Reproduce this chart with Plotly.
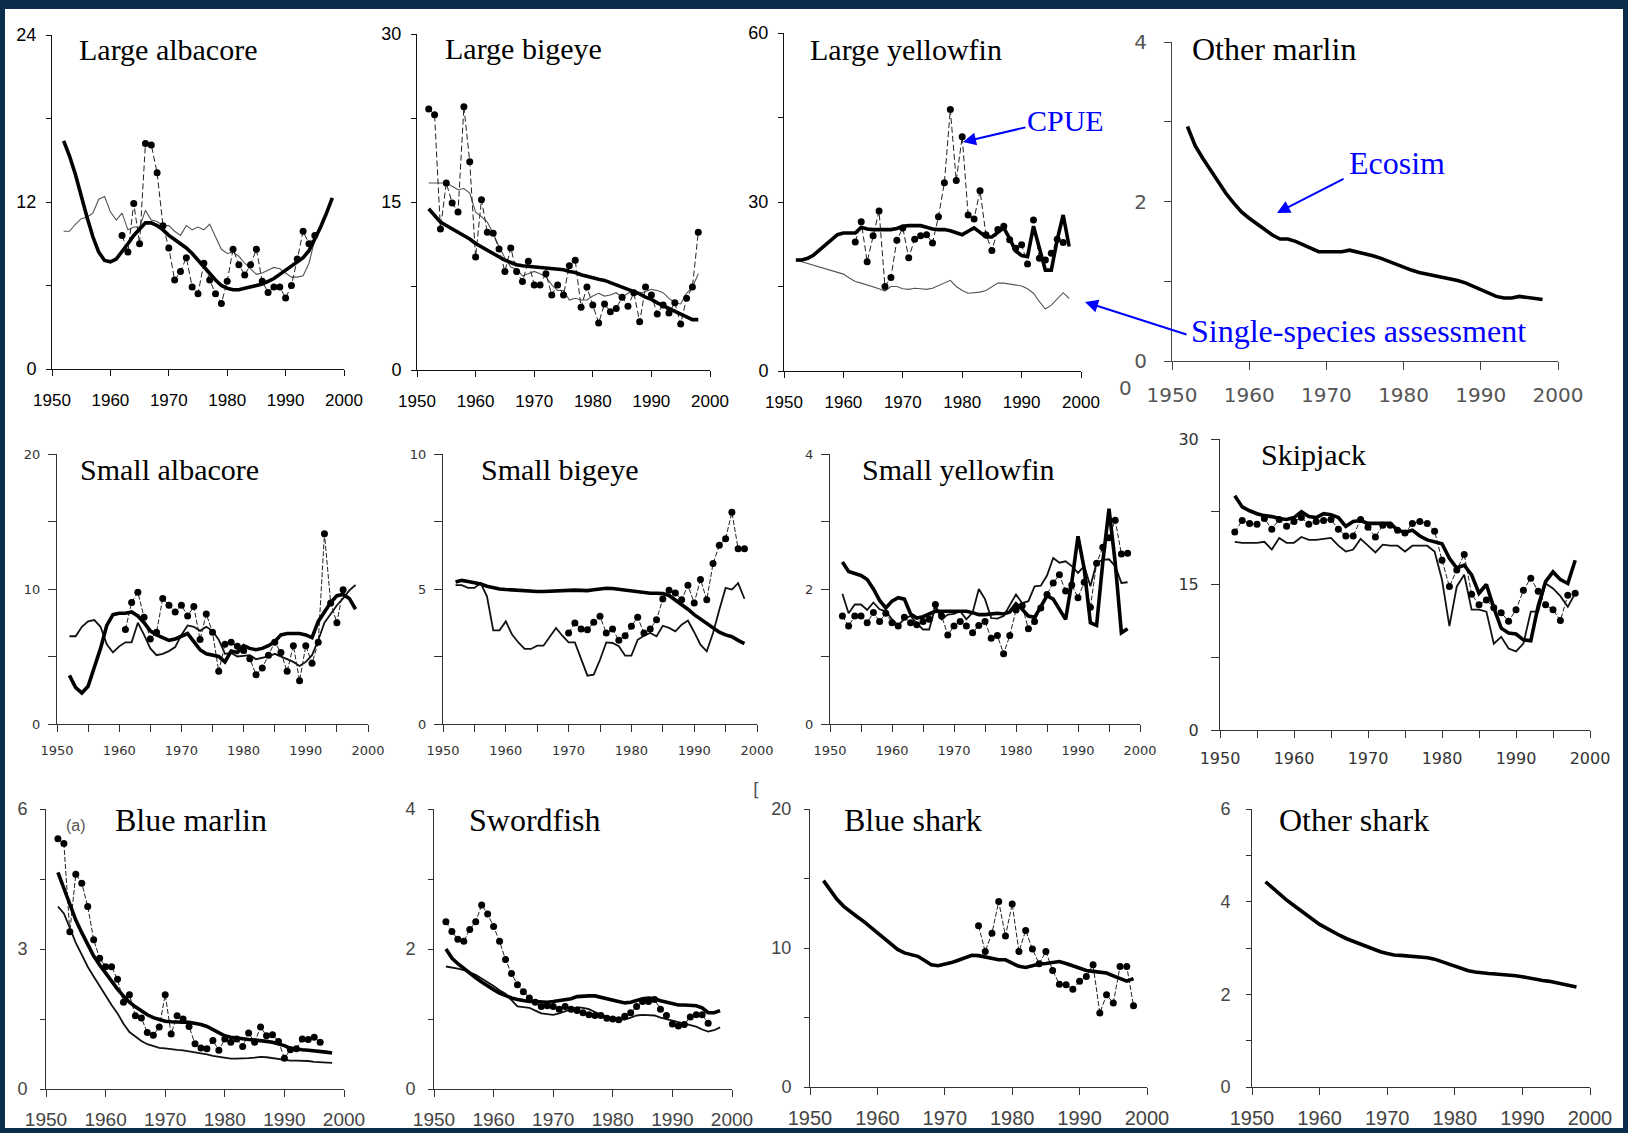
import plotly.graph_objects as go

W, H = 1628, 1133

# ---------------- data ----------------
# Large albacore
la_eco_start = 1952
la_eco = [16.4, 15.3, 14.0, 12.4, 10.9, 9.5, 8.4, 7.8, 7.7, 7.9, 8.4, 9.0, 9.6, 10.1, 10.5, 10.5, 10.3, 10.0, 9.6, 9.3,
          9.0, 8.7, 8.3, 7.8, 7.3, 6.8, 6.4, 6.0, 5.8, 5.7, 5.7, 5.8, 5.9, 6.0, 6.1, 6.3, 6.5, 6.8, 7.1, 7.4,
          7.7, 8.0, 8.5, 9.3, 10.2, 11.2, 12.3]
la_cpue_start = 1962
la_cpue = [9.6, 8.4, 11.9, 9.0, 16.2, 16.1, 14.1, 10.3, 8.7, 6.4, 7.0, 8.0, 5.9, 5.4, 7.6, 6.4, 5.4, 4.7, 6.3, 8.6,
           7.5, 6.75, 7.5, 8.6, 6.3, 5.5, 5.9, 5.9, 5.1, 6.0, 7.9, 9.9, 9.0, 9.6]
la_ssa_start = 1952
la_ssa = [9.9, 9.9, 10.4, 10.8, 10.9, 11.2, 12.2, 12.4, 11.3, 10.7, 11.2, 10.0, 10.2, 10.2, 11.4, 10.7, 10.6, 10.3,
          10.3, 9.9, 9.6, 10.3, 10.0, 10.2, 10.0, 10.4, 9.5, 8.6, 8.3, 8.4, 8.1, 7.6, 7.2, 6.8, 6.9, 7.1, 7.3, 7.2,
          6.9, 6.6, 6.6, 6.7, 7.6, 9.3]

# Large bigeye
lb_eco_start = 1952
lb_eco = [14.4, 13.8, 13.2, 12.9, 12.6, 12.3, 12.0, 11.7, 11.3, 11.0, 10.7, 10.4, 10.1, 9.8, 9.6, 9.4, 9.3, 9.25,
          9.2, 9.1, 9.1, 9.05, 9.0, 8.95, 8.8, 8.7, 8.5, 8.35, 8.2, 8.1, 8.0, 7.8, 7.65, 7.4, 7.2, 7.0, 6.8, 6.5,
          6.3, 6.0, 5.75, 5.5, 5.2, 4.95, 4.7, 4.5, 4.5]
lb_cpue_start = 1952
lb_cpue = [23.3, 22.8, 12.6, 16.7, 14.9, 14.1, 23.5, 18.6, 10.1, 15.2, 12.3, 12.2, 10.8, 8.8, 10.9, 8.8, 7.9, 9.7,
           7.6, 7.6, 8.6, 6.7, 7.6, 6.7, 9.3, 9.8, 5.6, 7.4, 5.8, 4.2, 5.9, 5.2, 5.5, 6.5, 5.7, 6.9, 4.3, 7.4, 6.7,
           5.0, 5.8, 5.1, 6.0, 4.1, 6.4, 7.4, 12.3]
lb_ssa_start = 1952
lb_ssa = [16.7, 16.7, 16.7, 16.7, 16.4, 16.1, 16.2, 15.8, 14.1, 13.7, 13.2, 12.2, 11.0, 10.0, 9.2, 9.0, 8.4, 8.6,
          8.8, 8.6, 8.3, 7.6, 7.1, 7.1, 6.25, 6.4, 6.25, 6.25, 6.6, 6.85, 6.6, 6.7, 6.9, 6.5, 6.85, 7.1, 6.85,
          7.0, 7.2, 7.1, 6.9, 6.4, 6.0, 5.9, 6.85, 7.4, 8.6]

# Large yellowfin
ly_eco_start = 1952
ly_eco = [19.7, 19.7, 20.0, 20.6, 21.5, 22.4, 23.4, 24.2, 24.5, 24.5, 24.5, 25.5, 25.2, 25.1, 25.1, 25.1, 25.1,
          25.3, 25.7, 25.8, 25.8, 25.8, 25.5, 25.2, 25.1, 25.1, 24.9, 24.5, 24.2, 24.8, 25.4, 24.6, 23.8, 23.8,
          24.6, 25.4, 23.5, 21.3, 20.5, 20.3, 25.7, 21.8, 17.9, 17.9, 23.3, 27.7, 22.1]
ly_cpue_start = 1962
ly_cpue = [22.9, 26.5, 19.4, 24.0, 28.4, 15.0, 16.6, 23.2, 25.4, 20.1, 23.4, 24.0, 24.2, 22.7, 27.4, 33.4, 46.4,
           33.8, 41.6, 27.7, 27.0, 32.0, 24.2, 21.4, 25.1, 25.7, 23.3, 21.8, 22.4, 19.0, 26.8, 20.0, 19.7, 20.9,
           23.4, 22.8]
ly_ssa_start = 1952
ly_ssa = [19.7, 19.4, 19.1, 18.7, 18.4, 18.1, 17.8, 17.5, 17.2, 16.5, 15.9, 15.6, 15.3, 15.0, 14.6, 14.2, 15.0,
          15.0, 14.6, 14.5, 14.7, 14.6, 14.5, 14.7, 15.2, 15.7, 16.1, 15.0, 14.3, 13.8, 13.9, 14.0, 14.3, 14.9,
          15.6, 15.6, 15.4, 15.3, 15.1, 14.6, 13.8, 12.3, 11.0, 11.7, 12.8, 13.9, 12.9]

# Other marlin
om_eco_start = 1952
om_eco = [2.94, 2.70, 2.54, 2.39, 2.24, 2.10, 1.98, 1.87, 1.79, 1.72, 1.65, 1.58, 1.53, 1.53, 1.50, 1.46, 1.41,
          1.37, 1.37, 1.37, 1.37, 1.39, 1.37, 1.35, 1.32, 1.29, 1.25, 1.21, 1.17, 1.14, 1.11, 1.09, 1.07, 1.06,
          1.04, 1.01, 0.98, 0.94, 0.90, 0.85, 0.81, 0.79, 0.79, 0.81, 0.80, 0.79, 0.77]

# Small albacore
sa_eco_start = 1952
sa_eco = [3.6, 2.7, 2.3, 2.8, 4.2, 5.6, 7.3, 8.1, 8.2, 8.2, 8.3, 8.0, 7.5, 6.9, 6.6, 6.4, 6.2, 6.3, 6.5, 6.7, 6.1,
          5.5, 5.2, 5.1, 5.0, 4.6, 5.4, 5.3, 5.8, 5.6, 5.5, 5.6, 5.8, 6.1, 6.6, 6.7, 6.7, 6.7, 6.6, 6.4, 7.6, 8.3,
          9.0, 9.5, 9.6, 9.3, 8.5]
sa_cpue_start = 1961
sa_cpue = [7.0, 9.0, 9.75, 7.9, 6.3, 6.8, 9.3, 8.8, 8.3, 8.8, 8.0, 8.7, 6.25, 8.15, 6.8, 3.9, 5.9, 6.05, 5.75, 5.45,
           4.84, 3.65, 4.15, 5.1, 6.05, 5.3, 3.9, 5.8, 3.2, 5.8, 4.5, 6.05, 14.1, 8.96, 7.5, 9.95]
sa_ssa_start = 1952
sa_ssa = [6.5, 6.5, 7.2, 7.6, 7.7, 7.2, 5.9, 5.3, 5.75, 6.05, 6.05, 7.5, 6.6, 5.6, 5.1, 5.2, 5.4, 5.7, 6.6, 7.3,
          7.2, 6.9, 7.2, 6.9, 6.25, 5.2, 5.26, 5.0, 5.05, 5.1, 4.8, 4.9, 5.0, 5.2, 5.0, 4.8, 4.6, 4.3, 4.6, 5.1,
          6.2, 7.5, 8.2, 8.8, 9.3, 9.9, 10.3]

# Small bigeye
sb_eco_start = 1952
sb_eco = [5.26, 5.32, 5.28, 5.24, 5.19, 5.1, 5.04, 5.0, 4.98, 4.96, 4.94, 4.92, 4.91, 4.91, 4.91, 4.92, 4.94, 4.96,
          4.98, 4.96, 4.95, 4.94, 4.97, 5.0, 5.03, 5.02, 4.99, 4.96, 4.93, 4.88, 4.85, 4.84, 4.84, 4.83, 4.76, 4.6,
          4.45, 4.25, 4.05, 3.88, 3.7, 3.53, 3.4, 3.3, 3.23, 3.1, 2.98]
sb_cpue_start = 1970
sb_cpue = [3.37, 3.74, 3.52, 3.49, 3.77, 3.99, 3.37, 3.52, 3.1, 3.27, 3.62, 3.95, 3.37, 3.52, 3.86, 4.63, 4.95,
           4.85, 4.6, 5.14, 4.48, 5.35, 4.6, 5.94, 6.62, 6.86, 7.84, 6.49, 6.49]
sb_ssa_start = 1952
sb_ssa = [5.14, 5.14, 5.04, 5.04, 5.22, 4.73, 3.47, 3.47, 3.8, 3.31, 3.02, 2.78, 2.78, 2.9, 2.9, 3.25, 3.56, 3.27,
          3.02, 3.02, 2.38, 1.79, 1.83, 2.38, 3.02, 3.0, 2.88, 2.53, 2.53, 3.12, 3.27, 3.37, 3.25, 3.64, 3.56,
          3.43, 3.68, 3.83, 3.4, 2.94, 2.69, 3.37, 4.23, 5.04, 4.98, 5.22, 4.64]

# Small yellowfin
sy_eco_start = 1952
sy_eco = [2.40, 2.26, 2.23, 2.20, 2.14, 2.00, 1.83, 1.72, 1.82, 1.87, 1.85, 1.63, 1.57, 1.59, 1.63, 1.67, 1.67,
          1.67, 1.67, 1.67, 1.67, 1.65, 1.62, 1.62, 1.63, 1.64, 1.63, 1.66, 1.78, 1.70, 1.60, 1.58, 1.74, 1.90,
          1.85, 1.70, 1.55, 2.10, 2.78, 2.30, 1.50, 1.46, 2.40, 3.19, 2.39, 1.35, 1.41]
sy_cpue_start = 1952
sy_cpue = [1.6, 1.45, 1.6, 1.6, 1.5, 1.65, 1.52, 1.64, 1.5, 1.45, 1.58, 1.5, 1.47, 1.52, 1.55, 1.77, 1.6, 1.32,
           1.45, 1.52, 1.45, 1.35, 1.46, 1.52, 1.27, 1.31, 1.04, 1.31, 1.69, 1.75, 1.41, 1.52, 1.72, 1.92, 2.09,
           2.21, 1.97, 2.06, 1.87, 2.1, 1.73, 2.38, 2.62, 2.76, 3.02, 2.52, 2.53]
sy_ssa_start = 1952
sy_ssa = [1.93, 1.64, 1.77, 1.77, 1.69, 1.8, 1.7, 1.67, 1.55, 1.46, 1.56, 1.6, 1.49, 1.4, 1.4, 1.74, 1.55, 1.62,
          1.63, 1.67, 1.55, 1.65, 2.0, 1.85, 1.57, 1.56, 1.6, 1.75, 1.92, 1.79, 1.82, 2.04, 2.05, 2.2, 2.46, 2.39,
          2.41, 2.34, 2.24, 2.34, 2.04, 2.39, 2.43, 2.44, 2.34, 2.09, 2.1]

# Skipjack
sk_eco_start = 1952
sk_eco = [24.15, 23.0, 22.6, 22.3, 22.1, 22.0, 21.8, 21.7, 21.9, 22.5, 22.0, 21.9, 22.3, 22.2, 21.9, 21.0, 21.5,
          21.6, 21.3, 21.3, 21.3, 21.3, 20.6, 20.4, 20.6, 20.0, 19.6, 19.4, 19.2, 17.7, 16.7, 17.0, 16.0, 14.1,
          15.0, 12.6, 10.5, 10.0, 9.9, 9.3, 9.2, 12.8, 15.3, 16.3, 15.5, 15.1, 17.5]
sk_cpue_start = 1952
sk_cpue = [20.4, 21.6, 21.3, 21.2, 21.8, 20.7, 21.7, 21.0, 21.5, 21.9, 21.2, 21.5, 21.6, 21.7, 20.7, 20.0, 20.0,
           21.7, 20.9, 19.9, 21.1, 21.1, 20.6, 20.3, 21.3, 21.5, 21.3, 20.5, 17.5, 14.8, 16.5, 18.1, 14.0, 12.9,
           13.4, 12.6, 12.1, 11.2, 12.4, 14.4, 15.65, 14.3, 12.9, 12.4, 11.3, 13.9, 14.1]
sk_ssa_start = 1952
sk_ssa = [19.4, 19.3, 19.3, 19.3, 19.4, 18.6, 19.8, 19.3, 19.3, 19.9, 19.6, 19.6, 19.7, 19.8, 19.0, 18.4, 18.6,
          19.7, 19.0, 18.3, 19.1, 19.0, 19.0, 18.4, 19.0, 19.0, 19.0, 18.4, 15.5, 10.7, 14.8, 16.0, 12.4, 12.4,
          12.2, 8.9, 9.6, 8.4, 8.1, 8.9, 12.2, 12.2, 15.1, 14.6, 13.8, 12.7, 14.1]

# Blue marlin
bm_eco_start = 1952
bm_eco = [4.64, 4.30, 3.95, 3.62, 3.35, 3.08, 2.85, 2.66, 2.48, 2.31, 2.14, 1.99, 1.86, 1.76, 1.67, 1.59, 1.53,
          1.48, 1.45, 1.44, 1.43, 1.43, 1.43, 1.41, 1.38, 1.34, 1.28, 1.21, 1.14, 1.11, 1.09, 1.08, 1.06, 1.05,
          1.04, 1.02, 1.0, 0.97, 0.93, 0.87, 0.85, 0.84, 0.83, 0.82, 0.81, 0.79, 0.77]
bm_cpue_start = 1952
bm_cpue = [5.36, 5.26, 3.37, 4.6, 4.41, 3.91, 3.2, 2.8, 2.62, 2.62, 2.35, 1.86, 2.02, 1.57, 1.52, 1.21, 1.15, 1.33,
           2.02, 1.18, 1.57, 1.5, 1.34, 0.97, 0.88, 0.86, 1.04, 0.83, 1.07, 1.0, 1.07, 0.91, 1.2, 1.0, 1.33, 1.14,
           1.16, 1.02, 0.66, 0.84, 0.86, 1.07, 1.06, 1.11, 1.0]
bm_ssa_start = 1952
bm_ssa = [3.91, 3.76, 3.45, 3.13, 2.88, 2.62, 2.41, 2.2, 1.98, 1.8, 1.62, 1.4, 1.22, 1.12, 1.03, 0.96, 0.92, 0.88,
          0.87, 0.85, 0.84, 0.83, 0.81, 0.79, 0.76, 0.74, 0.71, 0.69, 0.66, 0.65, 0.65, 0.65, 0.66, 0.67, 0.69,
          0.68, 0.66, 0.64, 0.62, 0.61, 0.61, 0.61, 0.6, 0.58, 0.57, 0.56, 0.56]

# Swordfish
sw_eco_start = 1952
sw_eco = [2.0, 1.87, 1.79, 1.72, 1.65, 1.59, 1.53, 1.47, 1.42, 1.37, 1.33, 1.30, 1.28, 1.26, 1.25, 1.25, 1.24,
          1.24, 1.25, 1.26, 1.27, 1.29, 1.32, 1.33, 1.33, 1.33, 1.31, 1.28, 1.26, 1.24, 1.23, 1.24, 1.27, 1.29,
          1.30, 1.29, 1.26, 1.24, 1.22, 1.20, 1.20, 1.20, 1.19, 1.16, 1.09, 1.09, 1.12]
sw_cpue_start = 1952
sw_cpue = [2.39, 2.25, 2.14, 2.11, 2.28, 2.39, 2.63, 2.5, 2.32, 2.11, 1.85, 1.65, 1.49, 1.39, 1.30, 1.24, 1.18,
           1.19, 1.18, 1.14, 1.18, 1.14, 1.12, 1.09, 1.06, 1.05, 1.05, 1.01, 1.0, 0.99, 1.04, 1.09, 1.18, 1.25,
           1.25, 1.28, 1.14, 1.05, 0.93, 0.90, 0.92, 1.03, 1.06, 1.06, 0.94]
sw_ssa_start = 1952
sw_ssa = [1.75, 1.74, 1.72, 1.70, 1.67, 1.63, 1.58, 1.53, 1.47, 1.41, 1.36, 1.27, 1.18, 1.17, 1.16, 1.12, 1.08,
          1.07, 1.06, 1.08, 1.11, 1.15, 1.17, 1.16, 1.14, 1.10, 1.06, 1.03, 1.00, 0.99, 0.99, 1.02, 1.05, 1.06,
          1.06, 1.05, 1.02, 1.00, 0.97, 0.95, 0.94, 0.92, 0.89, 0.85, 0.82, 0.84, 0.88]

# Blue shark
bs_eco_start = 1952
bs_eco = [14.85, 14.15, 13.5, 13.0, 12.6, 12.25, 11.9, 11.5, 11.1, 10.72, 10.35, 9.9, 9.65, 9.55, 9.4, 9.1, 8.8,
          8.72, 8.82, 8.95, 9.12, 9.3, 9.48, 9.45, 9.35, 9.25, 9.15, 9.15, 8.9, 8.68, 8.6, 8.7, 8.85, 8.88, 8.95,
          9.03, 8.88, 8.72, 8.55, 8.38, 8.32, 8.27, 8.2, 8.0, 7.83, 7.62, 7.8]
bs_cpue_start = 1975
bs_cpue = [11.6, 9.75, 11.07, 13.34, 10.87, 13.17, 9.75, 11.26, 9.92, 8.86, 9.75, 8.38, 7.4, 7.35, 7.04, 7.6, 7.95,
           8.79, 5.32, 6.63, 6.04, 8.67, 8.67, 5.84]

# Other shark
os_eco_start = 1952
os_eco = [4.43, 4.30, 4.17, 4.05, 3.94, 3.83, 3.71, 3.6, 3.51, 3.43, 3.34, 3.27, 3.20, 3.14, 3.09, 3.04, 2.97,
          2.92, 2.88, 2.85, 2.84, 2.83, 2.82, 2.81, 2.79, 2.76, 2.71, 2.65, 2.59, 2.55, 2.51, 2.48, 2.46, 2.45,
          2.44, 2.43, 2.42, 2.40, 2.38, 2.35, 2.32, 2.30, 2.28, 2.25, 2.22, 2.19, 2.16]

x_tick_labels = ["1950", "1960", "1970", "1980", "1990", "2000"]

# ---------------- styles ----------------
STY = {
    "r1": dict(axis="#111111", xfont=dict(family="Liberation Sans", size=17, color="#000000"),
               yfont=dict(family="Liberation Sans", size=18, color="#000000"),
               xticklen=6, yticklen=5, xstand=10, ystand=6, xminor=None, ssa_color="#555555", ssa_w=1.1,
               cpue_dash="6px,3px"),
    "r1b": dict(axis="#444444", xfont=dict(family="DejaVu Sans", size=20, color="#555555"),
                yfont=dict(family="DejaVu Sans", size=20, color="#555555"),
                xticklen=8, yticklen=7, xstand=8, ystand=13, xminor=None, ssa_color="#555555", ssa_w=1.1,
                cpue_dash="6px,3px"),
    "r2": dict(axis="#333333", xfont=dict(family="DejaVu Sans", size=13, color="#333333"),
               yfont=dict(family="DejaVu Sans", size=13, color="#333333"),
               xticklen=7, yticklen=8, xstand=7, ystand=5, xminor=5, ssa_color="#111111", ssa_w=1.8,
               cpue_dash="5px,2px"),
    "r3": dict(axis="#333333", xfont=dict(family="Liberation Sans", size=19, color="#444444"),
               yfont=dict(family="Liberation Sans", size=18, color="#444444"),
               xticklen=7, yticklen=5, xstand=6, ystand=9, xminor=None, ssa_color="#111111", ssa_w=1.8,
               cpue_dash="5px,2px"),
}

panels = [
    dict(title="Large albacore", box=(52, 344, 35, 369), ymax=24, ymaj=12, ymin=6, style="r1", tpos=(77, 49), tsize=30,
         series=[("ssa", la_ssa_start, la_ssa), ("cpue", la_cpue_start, la_cpue), ("eco", la_eco_start, la_eco)]),
    dict(title="Large bigeye", box=(417, 710, 34, 370), ymax=30, ymaj=15, ymin=7.5, style="r1", tpos=(443, 48), tsize=30,
         series=[("ssa", lb_ssa_start, lb_ssa), ("cpue", lb_cpue_start, lb_cpue), ("eco", lb_eco_start, lb_eco)]),
    dict(title="Large yellowfin", box=(784, 1081, 33, 371), ymax=60, ymaj=30, ymin=15, style="r1", tpos=(808, 49), tsize=30,
         series=[("ssa", ly_ssa_start, ly_ssa), ("cpue", ly_cpue_start, ly_cpue), ("eco", ly_eco_start, ly_eco)]),
    dict(title="Other marlin", box=(1172, 1558, 42, 361), ymax=4, ymaj=2, ymin=1, style="r1b", tpos=(1190, 49), tsize=32,
         series=[("eco", om_eco_start, om_eco)]),
    dict(title="Small albacore", box=(57, 368, 454, 724), ymax=20, ymaj=10, ymin=5, style="r2", tpos=(78, 469), tsize=30,
         series=[("ssa", sa_ssa_start, sa_ssa), ("cpue", sa_cpue_start, sa_cpue), ("eco", sa_eco_start, sa_eco)]),
    dict(title="Small bigeye", box=(443, 757, 454, 724), ymax=10, ymaj=5, ymin=2.5, style="r2", tpos=(479, 469), tsize=30,
         series=[("ssa", sb_ssa_start, sb_ssa), ("cpue", sb_cpue_start, sb_cpue), ("eco", sb_eco_start, sb_eco)]),
    dict(title="Small yellowfin", box=(830, 1140, 454, 724), ymax=4, ymaj=2, ymin=1, style="r2", tpos=(860, 469), tsize=30,
         series=[("ssa", sy_ssa_start, sy_ssa), ("cpue", sy_cpue_start, sy_cpue), ("eco", sy_eco_start, sy_eco)]),
    dict(title="Skipjack", box=(1220, 1590, 439, 730), ymax=30, ymaj=15, ymin=7.5, style="r2", tpos=(1259, 454), tsize=30,
         font16=True, ystand=9,
         series=[("ssa", sk_ssa_start, sk_ssa), ("cpue", sk_cpue_start, sk_cpue), ("eco", sk_eco_start, sk_eco)]),
    dict(title="Blue marlin", box=(46, 344, 809, 1089), ymax=6, ymaj=3, ymin=1.5, style="r3", tpos=(113, 820), tsize=32,
         series=[("ssa", bm_ssa_start, bm_ssa), ("cpue", bm_cpue_start, bm_cpue), ("eco", bm_eco_start, bm_eco)]),
    dict(title="Swordfish", box=(434, 732, 809, 1089), ymax=4, ymaj=2, ymin=1, style="r3", tpos=(467, 820), tsize=32,
         series=[("ssa", sw_ssa_start, sw_ssa), ("cpue", sw_cpue_start, sw_cpue), ("eco", sw_eco_start, sw_eco)]),
    dict(title="Blue shark", box=(810, 1147, 809, 1087), ymax=20, ymaj=10, ymin=5, style="r3", tpos=(842, 820), tsize=32,
         xsize=20, series=[("cpue", bs_cpue_start, bs_cpue), ("eco", bs_eco_start, bs_eco)]),
    dict(title="Other shark", box=(1252, 1590, 809, 1087), ymax=6, ymaj=2, ymin=1, style="r3", tpos=(1277, 820), tsize=32,
         xsize=20, ystand=12, series=[("eco", os_eco_start, os_eco)]),
]


def px(xp):
    return xp / W


def py(yp):
    return 1 - yp / H


fig = go.Figure()
layout = dict(template="none", width=W, height=H,
              margin=dict(l=0, r=0, t=0, b=0, pad=0, autoexpand=False), autosize=False,
              paper_bgcolor="#0c2c4c", plot_bgcolor="#ffffff", showlegend=False)
annotations = []
shapes = [dict(type="rect", xref="paper", yref="paper", x0=px(5), x1=px(1623), y0=py(1128), y1=py(9),
               fillcolor="#ffffff", line=dict(width=0), layer="below")]

for i, p in enumerate(panels, start=1):
    st = STY[p["style"]]
    x0, x1, yt, yb = p["box"]
    xf = dict(st["xfont"])
    yf = dict(st["yfont"])
    if p.get("font16"):
        xf["size"] = 16
        yf["size"] = 16
    if p.get("xsize"):
        xf["size"] = p["xsize"]
    xname = "xaxis" if i == 1 else f"xaxis{i}"
    yname = "yaxis" if i == 1 else f"yaxis{i}"
    xa = dict(domain=[px(x0), px(x1)], range=[1950, 2000], anchor=f"y{'' if i == 1 else i}",
              tickmode="array", tickvals=[1950, 1960, 1970, 1980, 1990, 2000], ticktext=x_tick_labels,
              showline=True, linecolor=st["axis"], linewidth=1, ticks="outside", ticklen=st["xticklen"],
              tickcolor=st["axis"], tickwidth=1, tickfont=xf, showgrid=False, zeroline=False,
              ticklabelstandoff=st["xstand"], fixedrange=True, automargin=False)
    if st["xminor"]:
        xa["minor"] = dict(tickmode="linear", tick0=1950, dtick=st["xminor"], ticks="outside",
                           ticklen=st["xticklen"], tickcolor=st["axis"], tickwidth=1, showgrid=False)
    ya = dict(domain=[py(yb), py(yt)], range=[0, p["ymax"]], anchor=f"x{'' if i == 1 else i}",
              tickmode="linear", tick0=0, dtick=p["ymaj"],
              showline=True, linecolor=st["axis"], linewidth=1, ticks="outside", ticklen=st["yticklen"],
              tickcolor=st["axis"], tickwidth=1, tickfont=yf, showgrid=False, zeroline=False,
              ticklabelstandoff=p.get("ystand", st["ystand"]), fixedrange=True, automargin=False,
              minor=dict(tickmode="linear", tick0=0, dtick=p["ymin"], ticks="outside", ticklen=st["yticklen"],
                         tickcolor=st["axis"], tickwidth=1, showgrid=False))
    layout[xname] = xa
    layout[yname] = ya
    xr = "x" if i == 1 else f"x{i}"
    yr = "y" if i == 1 else f"y{i}"
    for kind, start, vals in p["series"]:
        yrs = list(range(start, start + len(vals)))
        if kind == "eco":
            fig.add_trace(go.Scatter(x=yrs, y=vals, mode="lines", xaxis=xr, yaxis=yr, name="Ecosim",
                                     line=dict(color="#000000", width=3.6), hoverinfo="skip"))
        elif kind == "ssa":
            fig.add_trace(go.Scatter(x=yrs, y=vals, mode="lines", xaxis=xr, yaxis=yr,
                                     name="Single-species assessment",
                                     line=dict(color=st["ssa_color"], width=st["ssa_w"]), hoverinfo="skip"))
        else:
            fig.add_trace(go.Scatter(x=yrs, y=vals, mode="lines+markers", xaxis=xr, yaxis=yr, name="CPUE",
                                     line=dict(color="#222222", width=1, dash=st["cpue_dash"]),
                                     marker=dict(symbol="circle", size=7, color="#000000"), hoverinfo="skip"))
    tx, ty = p["tpos"]
    annotations.append(dict(text=p["title"], xref="paper", yref="paper", x=px(tx), y=py(ty),
                            xanchor="left", yanchor="middle", showarrow=False,
                            font=dict(family="Liberation Serif", size=p["tsize"], color="#000000")))

# white box behind "Other marlin" title (hides top of its axis line, as in the reference)
shapes.append(dict(type="rect", xref="paper", yref="paper", x0=px(1172.6), x1=px(1376), y0=py(79), y1=py(21),
                   fillcolor="#ffffff", line=dict(width=0), layer="above"))

blue = "#0000ff"
# CPUE label + arrow
annotations.append(dict(text="CPUE", xref="paper", yref="paper", x=px(1025), y=py(121), xanchor="left",
                        yanchor="middle", showarrow=False,
                        font=dict(family="Liberation Serif", size=30, color=blue)))
annotations.append(dict(text="", xref="paper", yref="paper", x=px(963), y=py(142), ax=64, ay=-15,
                        showarrow=True, arrowhead=2, arrowsize=1.3, arrowwidth=2, arrowcolor=blue))
# Ecosim label + arrow
annotations.append(dict(text="Ecosim", xref="paper", yref="paper", x=px(1347), y=py(163), xanchor="left",
                        yanchor="middle", showarrow=False,
                        font=dict(family="Liberation Serif", size=32, color=blue)))
annotations.append(dict(text="", xref="paper", yref="paper", x=px(1277), y=py(213), ax=68, ay=-35,
                        showarrow=True, arrowhead=2, arrowsize=1.3, arrowwidth=2, arrowcolor=blue))
# Single-species assessment label + arrow
annotations.append(dict(text="Single-species assessment", xref="paper", yref="paper", x=px(1189), y=py(331),
                        xanchor="left", yanchor="middle", showarrow=False,
                        font=dict(family="Liberation Serif", size=32, color=blue)))
annotations.append(dict(text="", xref="paper", yref="paper", x=px(1085), y=py(302), ax=103, ay=33,
                        showarrow=True, arrowhead=2, arrowsize=1.3, arrowwidth=2, arrowcolor=blue))
# small stray marks present in the reference
annotations.append(dict(text="(a)", xref="paper", yref="paper", x=px(76), y=py(825), xanchor="center",
                        yanchor="middle", showarrow=False,
                        font=dict(family="Liberation Sans", size=16, color="#555555")))
annotations.append(dict(text="0", xref="paper", yref="paper", x=px(1125), y=py(388), xanchor="center",
                        yanchor="middle", showarrow=False,
                        font=dict(family="DejaVu Sans", size=20, color="#555555")))
annotations.append(dict(text="[", xref="paper", yref="paper", x=px(756), y=py(789), xanchor="center",
                        yanchor="middle", showarrow=False,
                        font=dict(family="DejaVu Sans", size=18, color="#555555")))

layout["annotations"] = annotations
layout["shapes"] = shapes
fig.update_layout(**layout)

fig.write_html("out.html", config={"displayModeBar": False, "staticPlot": True},
               post_script="document.body.style.margin='0';document.body.style.overflow='hidden';")
